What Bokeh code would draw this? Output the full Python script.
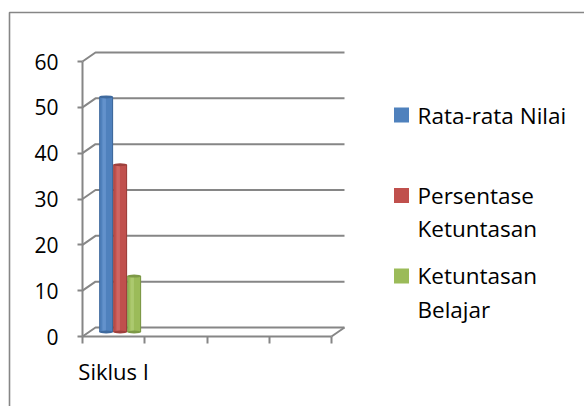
from bokeh.plotting import figure
from bokeh.models import Range1d, FixedTicker, ColumnDataSource
from bokeh.core.properties import value
from bokeh.embed import file_html
from bokeh.resources import INLINE

# ---- data ----
categories = ["Siklus I", "", "", ""]
series = ["Rata-rata Nilai", "Persentase\nKetuntasan", "Ketuntasan\nBelajar"]
values = [51.3, 36.5, 12.2]          # values of each series for "Siklus I"
y_ticks = [0, 10, 20, 30, 40, 50, 60]
colors = ["#4F81BD", "#C0504D", "#9BBB59"]
dark = ["#3F6A9E", "#9E403D", "#7D9947"]
light = ["#6C9AD3", "#D46E6B", "#B3CF79"]

# ---- geometry (pixels) ----
W, H = 584, 406
X0, XS = 82, 62.25      # pixel of category edge 0, pixels per category
Y0, YS = 336, 4.583     # pixel of value 0, pixels per value unit
DX, DY = 13 / XS, 9 / YS  # 3-D depth offset in data units
GRAY = "#868686"
FONT = "Open Sans"


def px(x):
    return (x - X0) / XS


def py(y):
    return (Y0 - y) / YS


p = figure(width=W, height=H, output_backend="svg", toolbar_location=None,
           x_range=Range1d(px(0), px(W)), y_range=Range1d(py(H), py(0)),
           min_border=0, outline_line_color=None)
p.grid.visible = False
p.background_fill_color = "white"
p.border_fill_color = "white"

n = len(categories)
ymax = y_ticks[-1]

# outer chart-area border
p.line(x=[px(9), px(9), px(W + 5)], y=[py(H + 5), py(12), py(12)],
       line_color=GRAY, line_width=1.6)

# back wall gridlines and side diagonals
for t in y_ticks:
    p.line(x=[0, DX, n + DX], y=[t, t + DY, t + DY], line_color=GRAY, line_width=2)
# floor right edge
p.line(x=[n, n + DX], y=[0, DY], line_color=GRAY, line_width=2)

# bars (cylinder-like)
BW = 0.225
for i, (name, v) in enumerate(zip(series, values)):
    xc = 0.5 + (i - 1) * BW + DX / 2
    src = ColumnDataSource(dict(x=[xc], top=[v + DY / 2], bottom=[DY / 2]))
    p.vbar(x="x", top="top", bottom="bottom", width=BW, source=src,
           fill_color=dark[i], line_color=None)
    p.vbar(x="x", top="top", bottom="bottom", width=BW * 0.84, source=src,
           fill_color=colors[i], line_color=None)
    p.vbar(x=[xc - BW * 0.14], top=[v + DY / 2], bottom=[DY / 2], width=BW * 0.25,
           fill_color=light[i], line_color=None, fill_alpha=0.7)
    p.ellipse(x=[xc], y=[v + DY / 2], width=BW, height=3 / YS,
              fill_color=dark[i], line_color=None)
    p.ellipse(x=[xc], y=[DY / 2], width=BW, height=3 / YS,
              fill_color=dark[i], line_color=None)

# legend (square swatch beside the first line of each label)
LEG_X, LEG_Y = 401, [114.5, 195, 275.5]
LINE_H = 33
FS = 22.5
nlines = [s.count("\n") + 1 for s in series]
p.scatter(x=[px(LEG_X)] * len(series), y=[py(y) for y in LEG_Y], marker="square",
          size=15, fill_color=colors, line_color=None)
p.text(x=[px(LEG_X + 16)] * len(series),
       y=[py(y + (k - 1) * LINE_H / 2) for y, k in zip(LEG_Y, nlines)],
       text=series, text_font=value(FONT), text_font_size=f"{FS}px",
       text_color="black", text_baseline="middle", text_align="left",
       text_line_height=LINE_H / (FS * 1.362))

# axes drawn at the front edge of the 3-D box
yax = p.yaxis[0]
yax.fixed_location = 0
yax.bounds = (0, ymax)
yax.ticker = FixedTicker(ticks=y_ticks)
yax.axis_line_color = GRAY
yax.axis_line_width = 2
yax.major_tick_line_color = GRAY
yax.major_tick_line_width = 2
yax.major_tick_out = 5
yax.major_tick_in = 0
yax.minor_tick_line_color = None
yax.major_label_text_font = FONT
yax.major_label_text_font_size = "21px"
yax.major_label_text_color = "black"
yax.major_label_standoff = 19

xax = p.xaxis[0]
xax.fixed_location = 0
xax.bounds = (0, n)
xax.ticker = FixedTicker(ticks=[i + 0.5 for i in range(n)],
                         minor_ticks=list(range(n + 1)))
xax.major_label_overrides = {i + 0.5: c for i, c in enumerate(categories)}
xax.axis_line_color = GRAY
xax.axis_line_width = 2
xax.major_tick_line_color = None
xax.major_tick_out = 0
xax.major_tick_in = 0
xax.minor_tick_line_color = GRAY
xax.minor_tick_line_width = 2
xax.minor_tick_out = 7
xax.minor_tick_in = 0
xax.major_label_text_font = FONT
xax.major_label_text_font_size = "22px"
xax.major_label_text_color = "black"
xax.major_label_standoff = 12

open("out.html", "w").write(file_html(p, INLINE))
